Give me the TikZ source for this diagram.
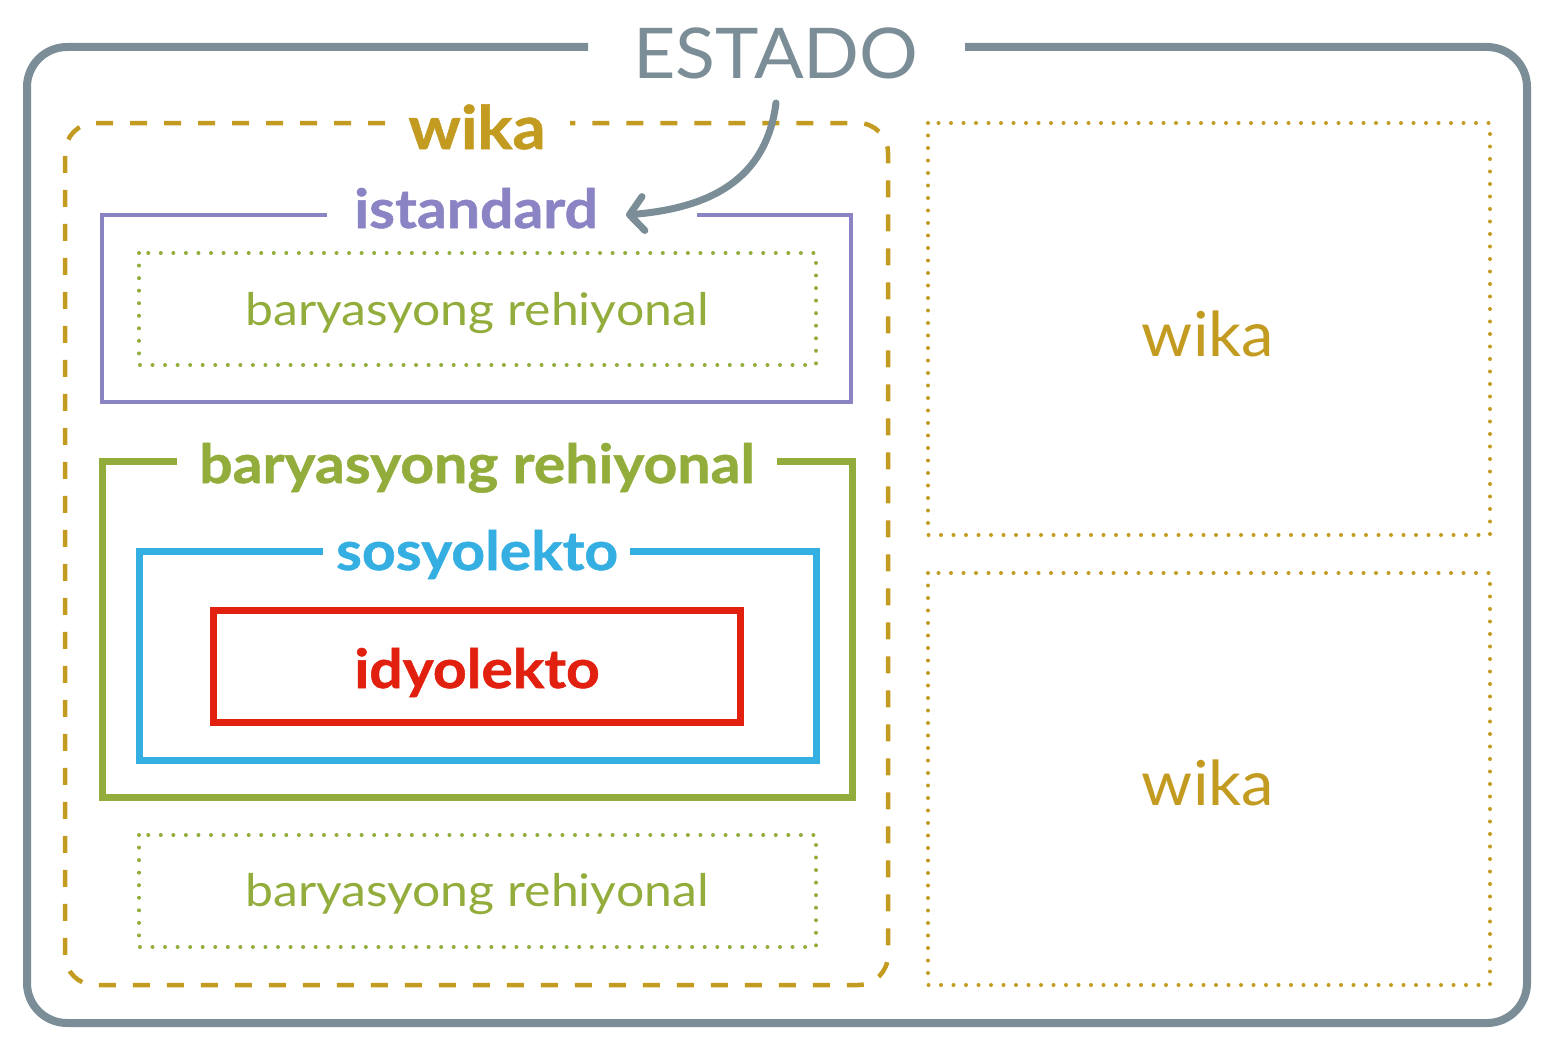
\documentclass[tikz,border=0pt]{standalone}
\usepackage{fontspec}
\setmainfont{Lato}
\newfontfamily\boldfam[FakeStretch=1.09,FakeBold=1]{Lato Bold}
\newfontfamily\regwide[FakeStretch=1.11]{Lato}
\newfontfamily\regmid[FakeStretch=1.05]{Lato}
\usetikzlibrary{arrows.meta}
\definecolor{cgray}{HTML}{7B8D96}
\definecolor{cgold}{HTML}{C29B20}
\definecolor{cpurple}{HTML}{8A84C4}
\definecolor{cgreen}{HTML}{93AD3C}
\definecolor{cblue}{HTML}{35AFE2}
\definecolor{cred}{HTML}{E2200F}
\tikzset{
  outerbox/.style={draw=cgray,line width=8pt,rounded corners=40pt},
  wikabox/.style={draw=cgold,line width=4.5pt,dash pattern=on 17pt off 17pt,rounded corners=30pt},
  dotgreen/.style={draw=cgreen,line width=4pt,line cap=round,dash pattern=on 0pt off 12.55pt},
  dotgold/.style={draw=cgold,line width=4pt,line cap=round,dash pattern=on 0pt off 12.5pt},
  purplebox/.style={draw=cpurple,line width=4pt},
  greenbox/.style={draw=cgreen,line width=7pt},
  bluebox/.style={draw=cblue,line width=7pt},
  redbox/.style={draw=cred,line width=7pt},
  lbl/.style={inner sep=0pt,anchor=base},
  bigbold/.style={lbl,font=\fontsize{54}{60}\selectfont\boldfam},
  regtxt/.style={lbl,font=\fontsize{45}{52}\selectfont\regwide},
  estarrow/.style={draw=cgray,line width=7pt,line cap=round,-{Straight Barb[length=14pt,width=34pt,line width=7pt,round]}},
}
\begin{document}
\begin{tikzpicture}[x=1pt,y=-1pt]
\useasboundingbox (0,0) rectangle (1556,1057);
% outer box
\draw[outerbox] (588,47) -- (27,47) -- (27,1023) -- (1527,1023) -- (1527,47) -- (965,47);
\node[lbl,text=cgray,font=\fontsize{70}{80}\selectfont\regmid] (estado) at (776,78) {ESTADO};
% wika dashed box
\draw[wikabox] (385,123) -- (65,123) -- (65,985) -- (888,985) -- (888,123) -- (570,123);
\node[lbl,text=cgold,font=\fontsize{60}{66}\selectfont\boldfam] (wika) at (477,149) {wika};
% istandard
\draw[purplebox] (327,215) -- (102,215) -- (102,402) -- (851,402) -- (851,215) -- (697,215);
\node[bigbold,text=cpurple] (istandard) at (476,228) {istandard};
\draw[dotgreen] (139,253) rectangle (816,365);
\node[regtxt,text=cgreen] (bar1) at (477,325) {baryasyong rehiyonal};
% baryasyong rehiyonal (main)
\draw[greenbox] (177,461) -- (102,461) -- (102,797) -- (852,797) -- (852,461) -- (777,461);
\node[bigbold,text=cgreen] (bar2) at (477,483) {baryasyong rehiyonal};
% sosyolekto
\draw[bluebox] (323,551) -- (139,551) -- (139,760) -- (816,760) -- (816,551) -- (630,551);
\node[bigbold,text=cblue] (sosyo) at (477,570) {sosyolekto};
% idyolekto
\draw[redbox] (213,610) rectangle (740,722);
\node[bigbold,text=cred] (idyo) at (477,688) {idyolekto};
% bottom dotted
\draw[dotgreen] (139,835) rectangle (816,947);
\node[regtxt,text=cgreen] (bar3) at (477,906) {baryasyong rehiyonal};
% right boxes
\draw[dotgold] (928,123) rectangle (1490,535);
\node[lbl,text=cgold,font=\fontsize{62}{70}\selectfont\regmid] (wika2) at (1208,356) {wika};
\draw[dotgold] (928,573) rectangle (1490,985);
\node[lbl,text=cgold,font=\fontsize{62}{70}\selectfont\regmid] (wika3) at (1208,805) {wika};
% arrow
\coordinate (astart) at (776,103);
\coordinate (aend) at (626,215);
\draw[estarrow] (astart) .. controls (766,180) and (710,208) .. (aend);
\end{tikzpicture}
\end{document}
